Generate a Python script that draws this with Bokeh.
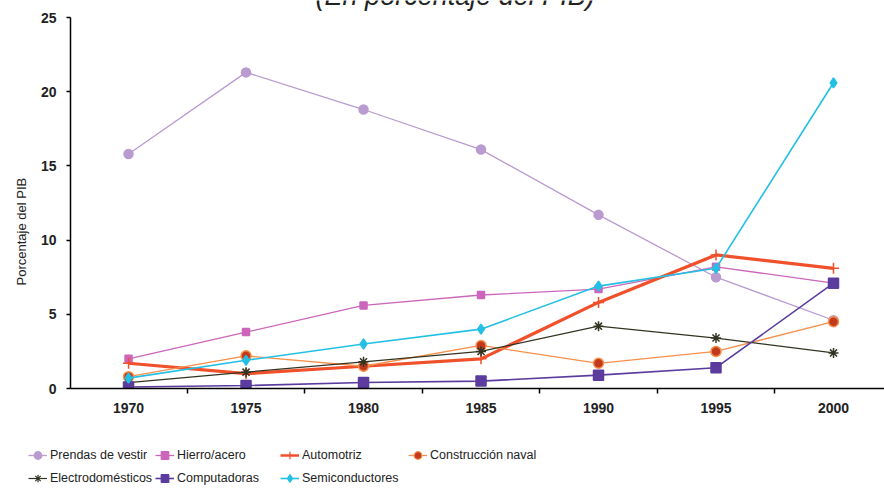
from bokeh.plotting import figure
from bokeh.layouts import column, row
from bokeh.models import (FixedTicker, Legend, LegendItem, Title, Range1d)
from bokeh.core.properties import value
from bokeh.embed import file_html
from bokeh.resources import INLINE

years = [1970, 1975, 1980, 1985, 1990, 1995, 2000]
prendas = [15.8, 21.3, 18.8, 16.1, 11.7, 7.5, 4.6]
hierro = [2.0, 3.8, 5.6, 6.3, 6.7, 8.2, 7.1]
automotriz = [1.7, 1.0, 1.5, 2.0, 5.8, 9.0, 8.1]
naval = [0.8, 2.2, 1.5, 2.9, 1.7, 2.5, 4.5]
electro = [0.4, 1.1, 1.8, 2.5, 4.2, 3.4, 2.4]
computadoras = [0.1, 0.2, 0.4, 0.5, 0.9, 1.4, 7.1]
semis = [0.7, 1.9, 3.0, 4.0, 6.9, 8.1, 20.6]
y_ticks = [0, 5, 10, 15, 20, 25]
minor_x = [1972.5, 1977.5, 1982.5, 1987.5, 1992.5, 1997.5]
subtitle = "(En porcentaje del PIB)"

FONT = "Liberation Sans"
PX_PER_UNIT = 371 / 25.0

p = figure(width=884, height=430, output_backend="svg", toolbar_location=None,
           x_range=Range1d(1967.53, 2002.17),
           y_range=Range1d(0, 25 + 17 / PX_PER_UNIT),
           min_border_left=70, min_border_right=0, min_border_top=0, min_border_bottom=42)
p.outline_line_color = None
p.xgrid.grid_line_color = None
p.ygrid.grid_line_color = None

# x axis
p.xaxis.ticker = FixedTicker(ticks=years, minor_ticks=minor_x)
p.xaxis.major_tick_out = 0
p.xaxis.major_tick_in = 0
p.xaxis.minor_tick_out = 5
p.xaxis.minor_tick_in = 0
p.xaxis.minor_tick_line_color = "black"
p.xaxis.minor_tick_line_width = 1.5
p.xaxis.axis_line_width = 1.5
p.xaxis.major_label_standoff = 9
p.xaxis.major_label_text_font = FONT
p.xaxis.major_label_text_font_size = "14px"
p.xaxis.major_label_text_font_style = "bold"
p.xaxis.major_label_text_color = "#222222"

# y axis
p.yaxis.ticker = FixedTicker(ticks=y_ticks)
p.yaxis.bounds = (0, 25)
p.yaxis.major_tick_out = 4
p.yaxis.major_tick_in = 0
p.yaxis.minor_tick_out = 0
p.yaxis.minor_tick_in = 0
p.yaxis.axis_line_width = 1.5
p.yaxis.major_tick_line_width = 1.5
p.yaxis.major_label_standoff = 10
p.yaxis.major_label_text_font = FONT
p.yaxis.major_label_text_font_size = "14px"
p.yaxis.major_label_text_font_style = "bold"
p.yaxis.major_label_text_color = "#222222"

p.add_layout(Title(text="Porcentaje del PIB", align="left", offset=103,
                   text_font=FONT, text_font_size="13px", text_font_style="normal",
                   text_color="#222222", standoff=18), "left")

# partially visible subtitle at the very top
p.text(x=[1983.9], y=[26.47], text=[subtitle], text_align="center",
       text_baseline="alphabetic", text_font=value(FONT),
       text_font_size="27px", text_font_style="italic", text_color="#222222")

series = [
    ("Prendas de vestir", prendas, "#b99bd0", 1.3, "circle", 9, "#b99bd0", "#b99bd0"),
    ("Hierro/acero", hierro, "#cc66bb", 1.3, "square", 7, "#cc66bb", "#cc66bb"),
    ("Automotriz", automotriz, "#f0502a", 3.2, "cross", 11, "#f0502a", "#f0502a"),
    ("Construcción naval", naval, "#f7904a", 1.3, "circle", 10, "#c23a1e", "#f7904a"),
    ("Electrodomésticos", electro, "#333322", 1.2, "asterisk", 10, "#333322", "#333322"),
    ("Computadoras", computadoras, "#5b3c9e", 1.6, "square", 10, "#5b3c9e", "#5b3c9e"),
    ("Semiconductores", semis, "#22c0e4", 1.6, "diamond", 10, "#22c0e4", "#22c0e4"),
]

# legend strip: a second figure whose frame covers the whole strip
lg = figure(width=884, height=58, output_backend="svg", toolbar_location=None,
            x_range=Range1d(0, 1), y_range=Range1d(1000, 1001),
            x_axis_location=None, y_axis_location=None, min_border=0)
lg.outline_line_color = None
lg.xgrid.grid_line_color = None
lg.ygrid.grid_line_color = None

items = {}
for name, vals, col, lw, marker, size, fill, outline in series:
    p.line(years, vals, line_color=col, line_width=lw)
    p.scatter(years, vals, marker=marker, size=size, fill_color=fill,
              line_color=outline, line_width=1.5)
    # same series in the legend strip (outside its visible range)
    l1 = lg.line(years, vals, line_color=col, line_width=min(lw, 2.5))
    l2 = lg.scatter(years, vals, marker=marker, size=size * 0.8, fill_color=fill,
                    line_color=outline, line_width=1.2)
    items[name] = LegendItem(label=name, renderers=[l1, l2])

columns = [
    (["Prendas de vestir", "Electrodomésticos"], 28, 0),
    (["Hierro/acero", "Computadoras"], 155, 0),
    (["Automotriz", "Semiconductores"], 280, 0),
    (["Construcción naval"], 408, 23),
]
for names, lx, ly in columns:
    leg = Legend(items=[items[n] for n in names], location=(lx, ly),
                 orientation="vertical", border_line_color=None,
                 background_fill_alpha=0, padding=0, margin=0, spacing=3,
                 glyph_width=19, glyph_height=20, label_height=20,
                 label_standoff=3, label_text_font=FONT,
                 label_text_font_size="12.5px", label_text_color="#222222")
    lg.add_layout(leg, "center")

layout = column(p, row(lg), spacing=0)
open("out.html", "w").write(file_html(layout, INLINE))
